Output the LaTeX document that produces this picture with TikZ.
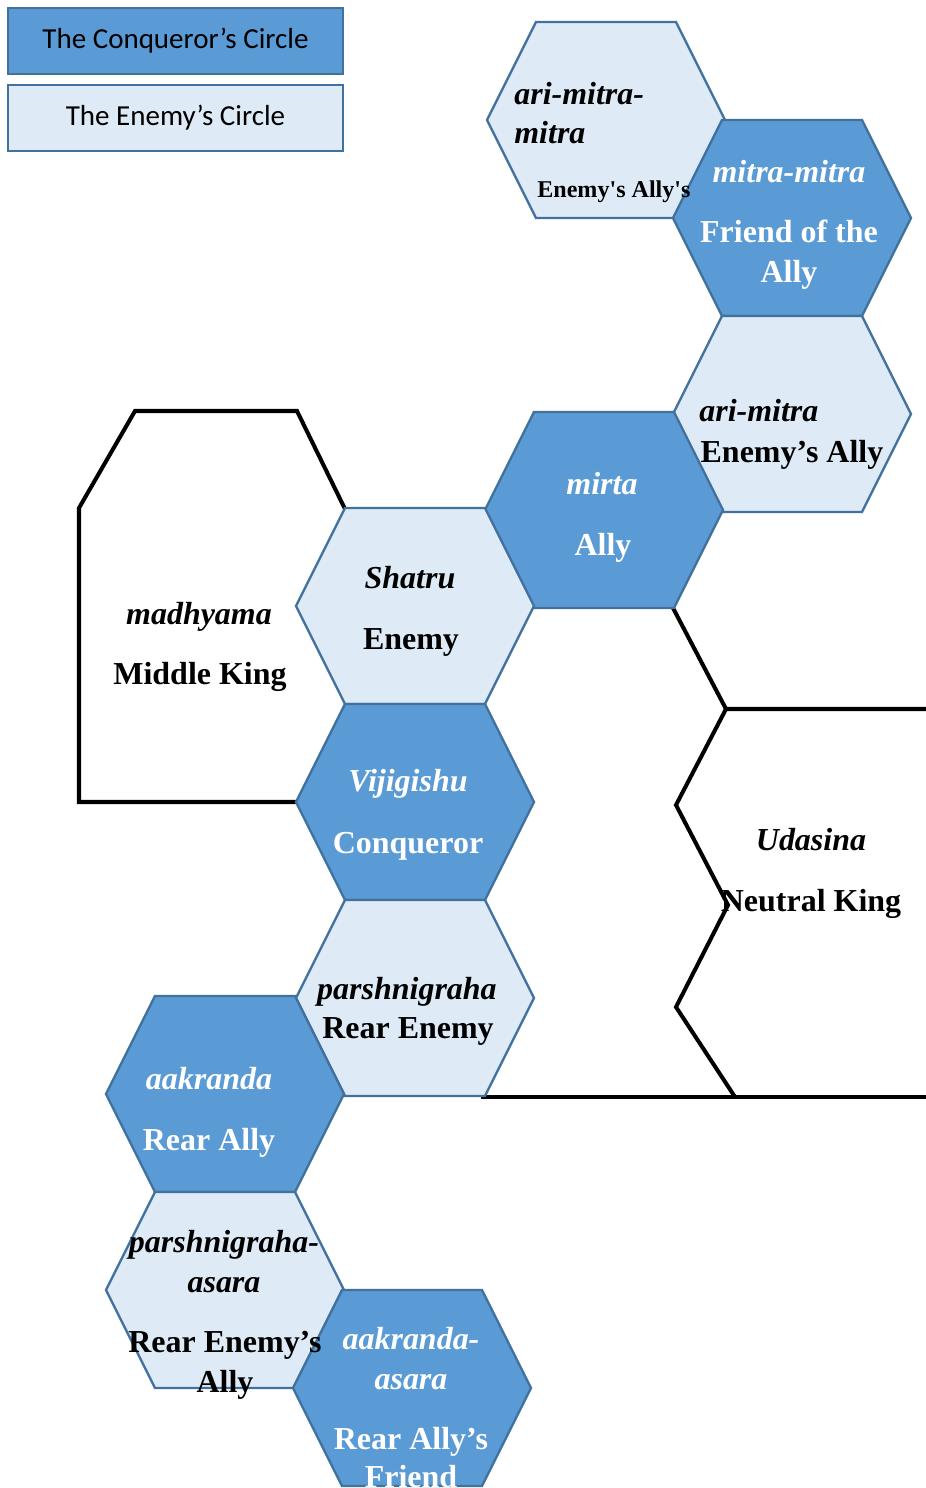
\documentclass[tikz,border=0pt]{standalone}
\usepackage{fontspec}
\setmainfont{Liberation Serif}
\newfontfamily\straightserif[Ligatures=TeXOff]{Liberation Serif}
\newfontfamily\legendfont{Carlito}
\usetikzlibrary{positioning}
\definecolor{conqblue}{HTML}{5B9BD5}
\definecolor{enemyblue}{HTML}{DEEBF7}
\definecolor{edgeblue}{HTML}{41719C}
\tikzstyle{darkhex} = [fill=conqblue, draw=edgeblue, line width=1.3pt]
\tikzstyle{lighthex} = [fill=enemyblue, draw=edgeblue, line width=1.3pt]
\tikzstyle{kingline} = [draw=black, line width=2.3pt]
\tikzstyle{kingname} = [
    font=\fontsize{18.2}{22}\selectfont\bfseries\itshape,
    anchor=base, inner sep=0pt
]
\tikzstyle{kingrole} = [
    font=\fontsize{18.2}{22}\selectfont\bfseries,
    anchor=base, inner sep=0pt
]
\tikzstyle{legendbox} = [
    rectangle, draw=edgeblue, line width=1.2pt,
    minimum width=6.7cm, minimum height=1.32cm,
    font=\legendfont\fontsize{16.5}{20}\selectfont, text centered
]
% one hexagon around a centre given in pixels
\newcommand{\hexcell}[3]{%
    \draw[#1, shift={(#2,#3)}] (-119,0) -- (-70,-98) -- (70,-98) -- (119,0)
        -- (70,98) -- (-70,98) -- cycle;}

\begin{document}
\begin{tikzpicture}[x=0.02cm, y=-0.02cm]
        \useasboundingbox (0,0) rectangle (926,1488);

        % Legend
        \node[legendbox, fill=conqblue] (conqlegend) at (175.5,41) {The Conqueror’s Circle};
        \node[legendbox, fill=enemyblue] (enemylegend) at (175.5,118) {The Enemy’s Circle};

        % Middle King and Neutral King outlines
        \draw[kingline] (345,509) -- (297,411) -- (135,411) -- (79,508) -- (79,802) -- (297,802);
        \draw[kingline] (673,608) -- (726,709) -- (930,709);
        \draw[kingline] (726,709) -- (676,805) -- (728,905) -- (676,1007) -- (735,1097);
        \draw[kingline] (481,1097) -- (930,1097);

        % Hexagons
        \hexcell{lighthex}{606}{120}
        \hexcell{darkhex}{792}{218}
        \hexcell{lighthex}{792}{414}
        \hexcell{darkhex}{604}{510}
        \hexcell{lighthex}{415}{606}
        \hexcell{darkhex}{415}{802}
        \hexcell{lighthex}{415}{998}
        \hexcell{darkhex}{225}{1094}
        \hexcell{lighthex}{225}{1290}
        \hexcell{darkhex}{412}{1388}

        % Names and roles
        \node[kingname, anchor=base west] (arimitramitra) at (514,104) {ari-mitra-};
        \node[kingname, anchor=base west] (arimitramitrab) at (514,143) {mitra};
        \node[kingrole, anchor=base west, font=\straightserif\fontsize{13.7}{16}\selectfont\bfseries] (enemyallyally) at (537,197) {Enemy's Ally's};

        \node[kingname, text=white] (mitramitra) at (789,182) {mitra-mitra};
        \node[kingrole, text=white] (friendally) at (789,242) {Friend of the};
        \node[kingrole, text=white] (friendallyb) at (789,282) {Ally};

        \node[kingname, anchor=base west] (arimitra) at (699,421) {ari-mitra};
        \node[kingrole] (enemyally) at (792,462) {Enemy’s Ally};

        \node[kingname, text=white] (mirta) at (602,494) {mirta};
        \node[kingrole, text=white] (ally) at (603,555) {Ally};

        \node[kingname] (shatru) at (410,588) {Shatru};
        \node[kingrole] (enemy) at (411,649) {Enemy};

        \node[kingname] (madhyama) at (199,624) {madhyama};
        \node[kingrole] (middleking) at (200,684) {Middle King};

        \node[kingname, text=white] (vijigishu) at (408,791) {Vijigishu};
        \node[kingrole, text=white] (conqueror) at (408,853) {Conqueror};

        \node[kingname] (udasina) at (811,850) {Udasina};
        \node[kingrole] (neutralking) at (811,911) {Neutral King};

        \node[kingname] (parshnigraha) at (407,999) {parshnigraha};
        \node[kingrole] (rearenemy) at (408,1038) {Rear Enemy};

        \node[kingname, text=white] (aakranda) at (209,1089) {aakranda};
        \node[kingrole, text=white] (rearally) at (209,1150) {Rear Ally};

        \node[kingname] (parshnigrahaasara) at (224,1252) {parshnigraha-};
        \node[kingname] (parshnigrahaasarab) at (224,1292) {asara};
        \node[kingrole] (rearenemyally) at (225,1352) {Rear Enemy’s};
        \node[kingrole] (rearenemyallyb) at (225,1392) {Ally};

        \node[kingname, text=white] (aakrandaasara) at (411,1349) {aakranda-};
        \node[kingname, text=white] (aakrandaasarab) at (411,1389) {asara};
        \node[kingrole, text=white] (rearallyfriend) at (411,1449) {Rear Ally’s};
        \node[kingrole, text=white] (rearallyfriendb) at (411,1487) {Friend};

    \end{tikzpicture}
\end{document}
